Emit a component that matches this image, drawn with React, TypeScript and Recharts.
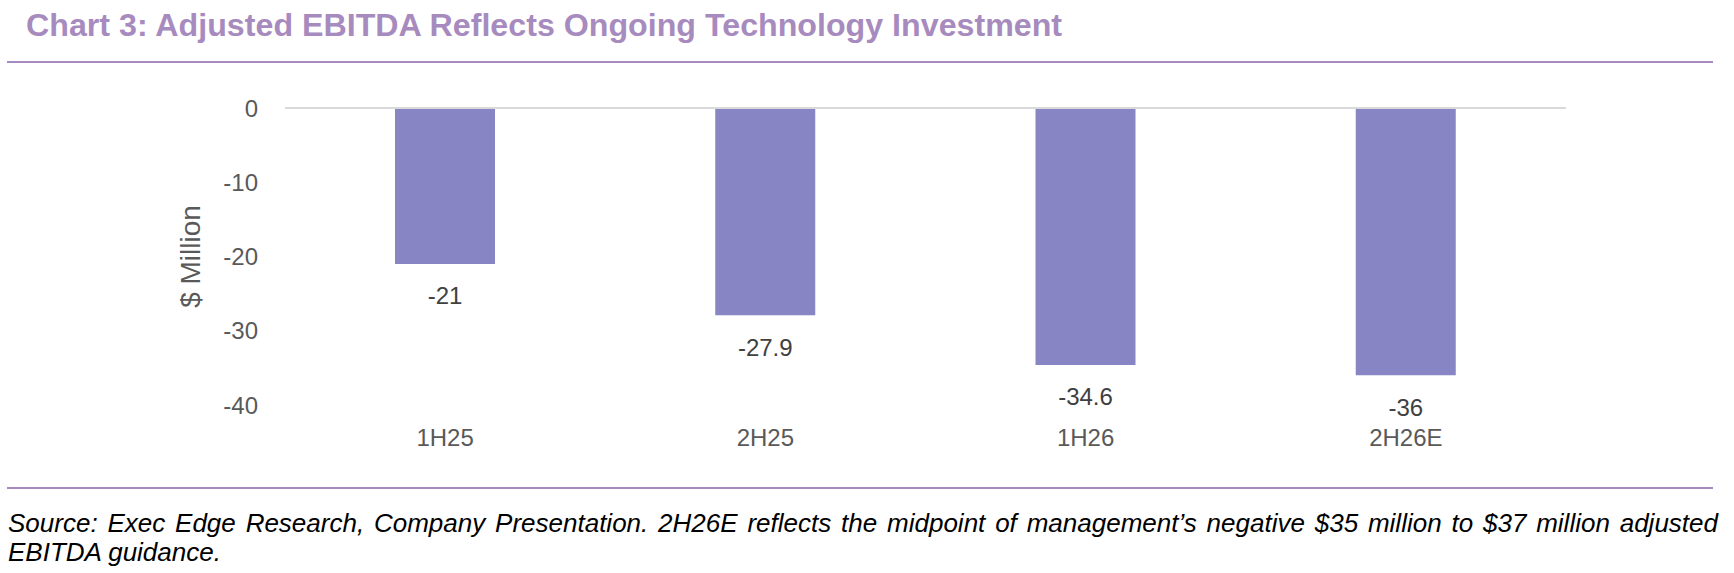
import { BarChart, Bar, XAxis, YAxis, ReferenceLine, LabelList, Label } from "recharts"

const periods = ["1H25", "2H25", "1H26", "2H26E"]
const ebitda = [-21, -27.9, -34.6, -36]
const yTicks = [0, -10, -20, -30, -40]

const data = periods.map((period, i) => ({ period, ebitda: ebitda[i] }))

const FONT = '"Liberation Sans", Arial, sans-serif'
const PURPLE = "#A78BBE"

function ValueLabel(props: any) {
  const x = Number(props.x)
  const y = Number(props.y)
  const w = Number(props.width)
  const h = Number(props.height)
  // bar end is the lower edge on screen for negative values
  const end = Math.max(y, y + h)
  return (
    <text
      x={x + w / 2}
      y={end + 32}
      textAnchor="middle"
      dominantBaseline="central"
      fontSize={24}
      fill="#404040"
      fontFamily={FONT}
    >
      {props.value}
    </text>
  )
}

function AxisTitle(props: any) {
  const vb = props.viewBox || {}
  const cx = vb.x + 190
  const cy = vb.y + vb.height / 2
  return (
    <text
      x={cx}
      y={cy}
      transform={`rotate(-90, ${cx}, ${cy})`}
      textAnchor="middle"
      dominantBaseline="central"
      fontSize={28}
      fill="#595959"
      fontFamily={FONT}
    >
      $ Million
    </text>
  )
}

export default function App() {
  return (
    <div
      style={{
        position: "absolute",
        left: 0,
        top: 0,
        width: 1734,
        height: 573,
        background: "#fff",
        fontFamily: FONT,
        overflow: "hidden",
      }}
    >
      <div
        style={{
          position: "absolute",
          left: 26,
          top: 9,
          fontSize: 32.2,
          lineHeight: "32px",
          fontWeight: "bold",
          color: PURPLE,
          whiteSpace: "nowrap",
        }}
      >
        Chart 3: Adjusted EBITDA Reflects Ongoing Technology Investment
      </div>
      <div style={{ position: "absolute", left: 7, top: 61, width: 1706, height: 2, background: PURPLE }} />

      <div style={{ position: "absolute", left: 0, top: 0 }}>
        <BarChart width={1734} height={470} data={data} margin={{ top: 108, right: 168, bottom: 25, left: 0 }}>
          <XAxis
            dataKey="period"
            axisLine={false}
            tickLine={false}
            tickSize={0}
            tickMargin={24}
            height={40}
            tick={{ fontSize: 24, fill: "#595959", fontFamily: FONT }}
          />
          <YAxis
            domain={[-40, 0]}
            ticks={yTicks}
            axisLine={false}
            tickLine={false}
            tickSize={0}
            tickMargin={27}
            width={285}
            tick={{ fontSize: 24, fill: "#595959", fontFamily: FONT }}
          >
            <Label content={AxisTitle} />
          </YAxis>
          <ReferenceLine y={0} stroke="#D9D9D9" strokeWidth={2} />
          <Bar dataKey="ebitda" fill="#8785C4" barSize={100} isAnimationActive={false}>
            <LabelList dataKey="ebitda" content={ValueLabel} />
          </Bar>
        </BarChart>
      </div>

      <div style={{ position: "absolute", left: 7, top: 487, width: 1706, height: 2, background: PURPLE }} />
      <div
        style={{
          position: "absolute",
          left: 8,
          top: 509,
          width: 1710,
          fontSize: 26,
          lineHeight: "29px",
          fontStyle: "italic",
          color: "#000",
        }}
      >
        <div style={{ textAlign: "justify", textAlignLast: "justify", whiteSpace: "nowrap" }}>
          Source: Exec Edge Research, Company Presentation. 2H26E reflects the midpoint of management’s negative $35
          million to $37 million adjusted
        </div>
        <div>EBITDA guidance.</div>
      </div>
    </div>
  )
}
